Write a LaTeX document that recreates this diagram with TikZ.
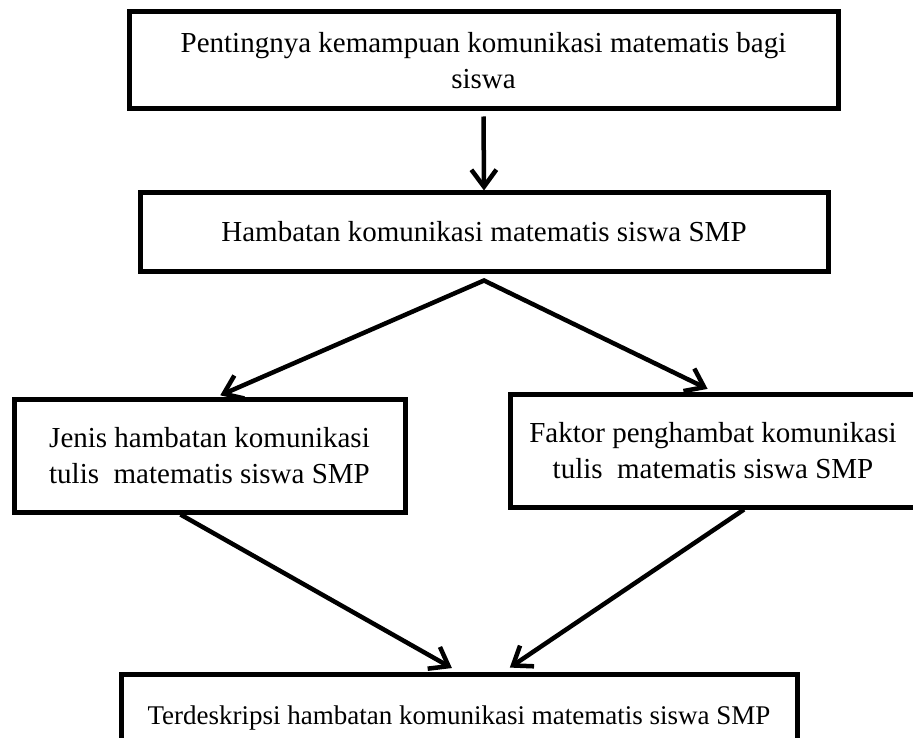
\documentclass[tikz,border=0pt]{standalone}
\usepackage{fontspec}
\setmainfont{Liberation Serif}
\usetikzlibrary{arrows.meta}

\begin{document}
\begin{tikzpicture}[x=1pt,y=-1pt,
  kotak/.style={draw,line width=5pt,rectangle,align=center,inner sep=0pt,font=\fontsize{29}{36}\selectfont},
  panah/.style={line width=4.5pt,-{Straight Barb[length=17pt,width=25pt]}},
  panahdua/.style={line width=4.5pt,{Straight Barb[length=17pt,width=25pt]}-{Straight Barb[length=17pt,width=25pt]}}]
\useasboundingbox (0,0) rectangle (913,738);

%Shape: Rectangle [penting]
\node [kotak,minimum width=709pt,minimum height=97pt] (penting) at (483.5,60.5) {Pentingnya kemampuan komunikasi matematis bagi\\siswa};
%Shape: Rectangle [hambatan]
\node [kotak,minimum width=688pt,minimum height=78pt] (hambatan) at (484,232) {Hambatan komunikasi matematis siswa SMP};
%Shape: Rectangle [jenis]
\node [kotak,minimum width=391pt,minimum height=113pt] (jenis) at (209.5,455.5) {Jenis hambatan komunikasi\\tulis~~matematis siswa SMP};
%Shape: Rectangle [faktor]
\node [kotak,minimum width=406pt,minimum height=113pt] (faktor) at (713,450.5) {Faktor penghambat komunikasi\\tulis~~matematis siswa SMP};
%Shape: Rectangle [hasil]
\node [kotak,minimum width=676pt,minimum height=88pt,font=\fontsize{27}{34}\selectfont] (hasil) at (459,718) {Terdeskripsi hambatan komunikasi matematis siswa SMP};

\coordinate (cabang) at ([yshift=-7pt]hambatan.south);

%Straight Lines
\draw [panah,shorten <=5pt] (penting.south) -- (hambatan.north);
%Straight Lines [cabang]
\draw [panahdua,shorten <=3pt,shorten >=6pt] ([xshift=8pt]jenis.north) -- (cabang) -- (faktor.north);
%Straight Lines
\draw [panah,shorten >=7pt] ([xshift=-29pt]jenis.south) -- ([xshift=-1pt]hasil.north);
%Straight Lines
\draw [panah,shorten >=7pt] ([xshift=31pt]faktor.south) -- ([xshift=45pt]hasil.north);
\end{tikzpicture}
\end{document}
